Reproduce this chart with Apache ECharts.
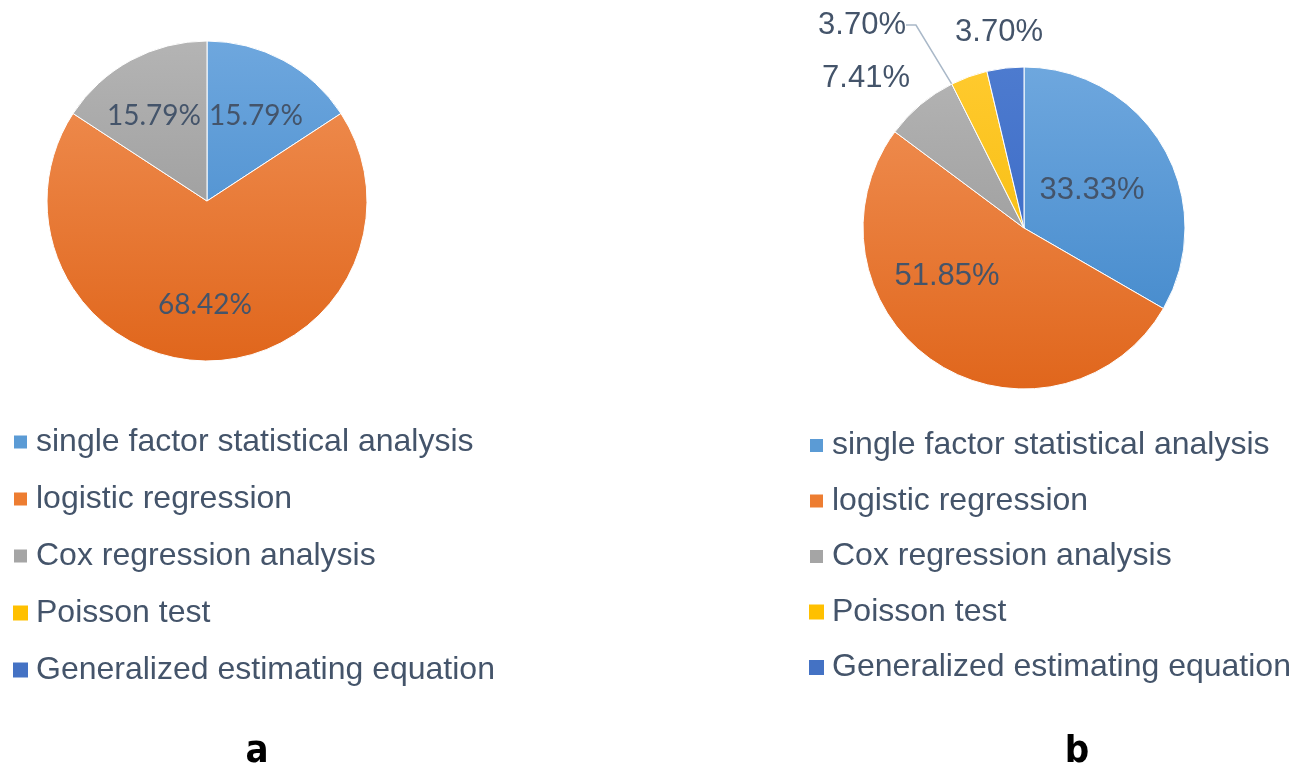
<!DOCTYPE html>
<html>
<head>
<meta charset="utf-8">
<script src="https://cdn.jsdelivr.net/npm/echarts@6/dist/echarts.min.js"></script>
<style>
  html, body { margin: 0; padding: 0; background: #fff; }
  #chart { width: 1308px; height: 763px; }
</style>
</head>
<body>
<div id="chart"></div>
<script>
// data (percent of studies)
const methods = ['single factor statistical analysis', 'logistic regression', 'Cox regression analysis', 'Poisson test', 'Generalized estimating equation'];
const shareA = [15.79, 68.42, 15.79, 0, 0];
const shareB = [33.33, 51.85, 7.41, 3.70, 3.70];
const panelLabels = ['a', 'b'];

// office-like palette: [top, bottom] of each slice gradient
const colorTop = ['#6ea7de', '#f19257', '#b4b4b4', '#ffca2e', '#4d7bcf'];
const colorBottom = ['#3d85c9', '#e0661c', '#8f8f8f', '#f2b600', '#3262c2'];
const legendColor = ['#5b9bd5', '#ed7d31', '#a5a5a5', '#ffc000', '#4472c4'];
const textColor = '#44546a';

const pieA = { center: [207, 201], r: 160 };
const pieB = { center: [1024, 228], r: 161 };

// label anchors (text centres)
const labelPosA = [[256, 116], [205, 305], [154, 116], null, null];
const labelPosB = [[1092, 190], [947, 276], [866, 78], [862, 25], [999, 32]];

function grad(i, pie) {
  return new echarts.graphic.LinearGradient(0, pie.center[1] - pie.r, 0, pie.center[1] + pie.r, [
    { offset: 0, color: colorTop[i] },
    { offset: 1, color: colorBottom[i] }
  ], true);
}

function pieData(values, pie) {
  return values.map((v, i) => ({
    name: methods[i],
    value: v,
    itemStyle: { color: grad(i, pie), borderWidth: v > 0 ? 1 : 0 },
    label: { show: v > 0 },
    labelLine: { show: pie === pieB && i === 3 }
  }));
}

function legendFor(left, top, gap) {
  return {
    orient: 'vertical',
    left: left,
    top: top,
    padding: 0,
    itemWidth: 15,
    itemHeight: 15,
    itemGap: gap,
    icon: 'rect',
    selectedMode: false,
    textStyle: { fontFamily: 'Liberation Sans, Arial', fontSize: 32, lineHeight: 32, color: textColor, padding: [0, 0, 0, 3] },
    data: methods.map((m, i) => ({ name: m, itemStyle: { color: legendColor[i] } }))
  };
}

const chart = echarts.init(document.getElementById('chart'));
chart.setOption({
  backgroundColor: '#fff',
  animation: false,
  legend: [legendFor(12, 426, 25), legendFor(808, 429.5, 23.5)],
  title: panelLabels.map((t, i) => ({
    text: t,
    left: i === 0 ? 252 : 1072,
    top: 728,
    textAlign: 'center',
    textStyle: { fontFamily: 'Liberation Sans Narrow, DejaVu Sans Condensed, Arial', fontWeight: 'bold', fontSize: 38, color: '#000' }
  })),
  series: [
    {
      type: 'pie',
      center: pieA.center,
      radius: pieA.r,
      startAngle: 90,
      clockwise: true,
      avoidLabelOverlap: false,
      itemStyle: { borderColor: '#fff', borderWidth: 1 },
      label: {
        position: 'inside',
        fontFamily: 'Lato, Noto Sans',
        fontSize: 28,
        color: textColor,
        formatter: p => p.value.toFixed(2) + '%'
      },
      labelLayout: p => {
        const pos = labelPosA[p.dataIndex];
        return pos ? { x: pos[0], y: pos[1], align: 'center', verticalAlign: 'middle' } : {};
      },
      emphasis: { disabled: true },
      data: pieData(shareA, pieA)
    },
    {
      type: 'pie',
      center: pieB.center,
      radius: pieB.r,
      startAngle: 90,
      clockwise: true,
      avoidLabelOverlap: false,
      itemStyle: { borderColor: '#fff', borderWidth: 1 },
      label: {
        position: 'inside',
        fontFamily: 'Liberation Sans, Arial',
        fontSize: 31,
        color: textColor,
        formatter: p => p.value.toFixed(2) + '%'
      },
      labelLine: { lineStyle: { color: '#a9b8c8', width: 1.5 }, length: 20, length2: 10 },
      labelLayout: p => {
        const pos = labelPosB[p.dataIndex];
        return pos ? { x: pos[0], y: pos[1], align: 'center', verticalAlign: 'middle' } : {};
      },
      emphasis: { disabled: true },
      data: pieData(shareB, pieB)
    }
  ]
});
</script>
</body>
</html>
